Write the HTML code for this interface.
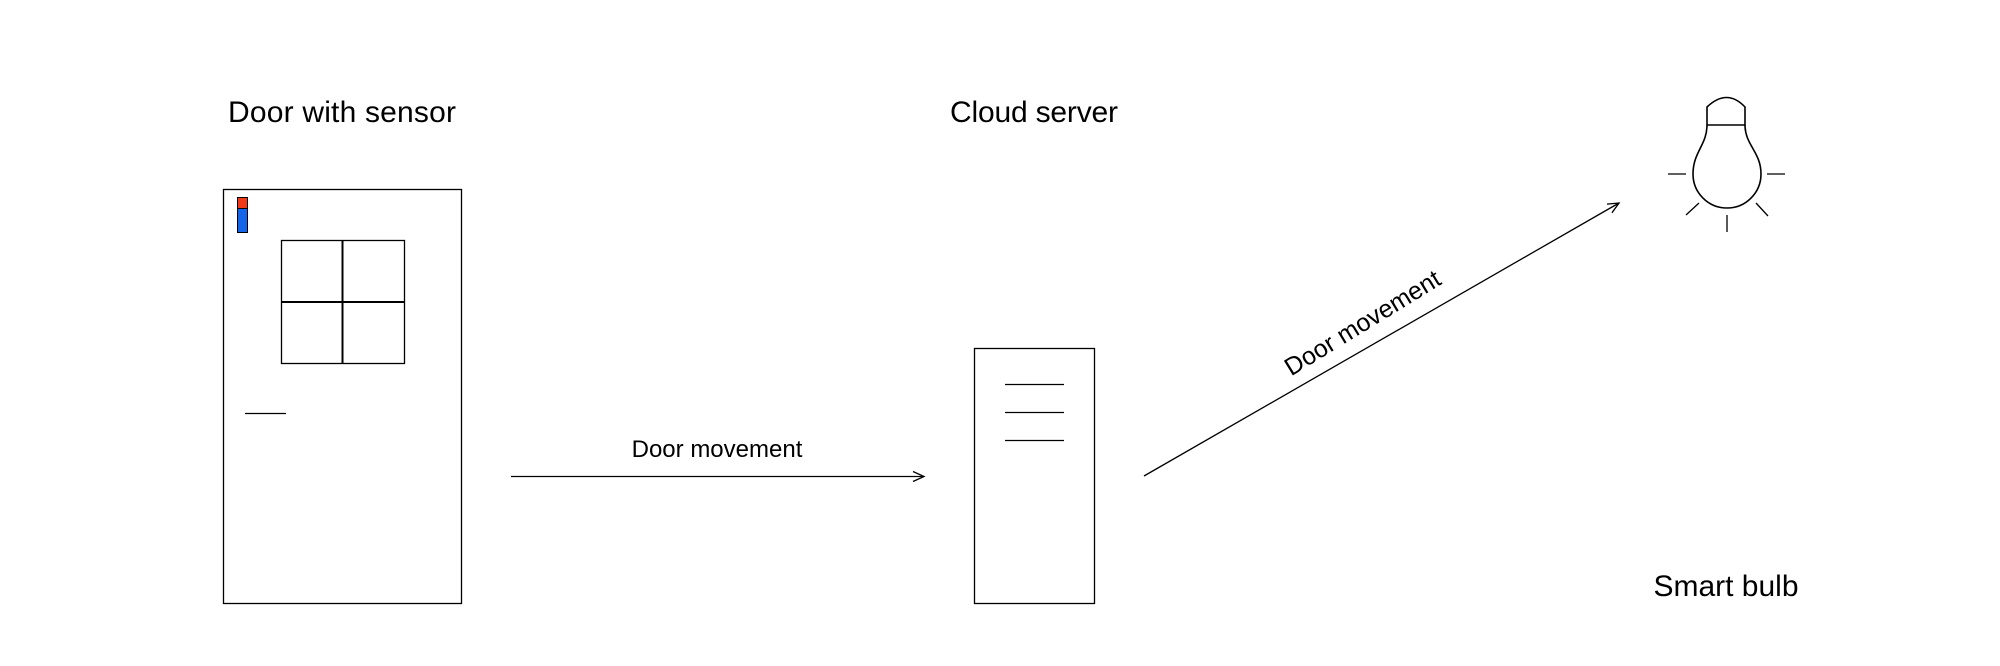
<!DOCTYPE html>
<html><head><meta charset="utf-8"><style>
html,body{margin:0;padding:0;background:#fff;}
svg{display:block;}
text{font-family:"Liberation Sans",sans-serif;fill:#000;}
</style></head><body>
<svg width="2000" height="666" viewBox="0 0 2000 666" xmlns="http://www.w3.org/2000/svg">
<defs>
<marker id="ah" markerWidth="14" markerHeight="12" refX="12" refY="6" orient="auto" markerUnits="userSpaceOnUse">
<path d="M1,1 L12,6 L1,11" fill="none" stroke="#000" stroke-width="1.3"/>
</marker>
</defs>
<text x="228" y="122" font-size="30" textLength="228">Door with sensor</text>
<text x="950" y="122" font-size="30" textLength="168">Cloud server</text>
<text x="1726" y="596" font-size="30" text-anchor="middle">Smart bulb</text>

<!-- door -->
<rect x="223.5" y="189.5" width="238" height="414" fill="none" stroke="#000" stroke-width="1.3"/>
<rect x="237.5" y="197.5" width="10" height="11" fill="#f03a17" stroke="#000" stroke-width="1"/>
<rect x="237.5" y="208.5" width="10" height="24" fill="#1565e8" stroke="#000" stroke-width="1"/>
<rect x="281.5" y="240.5" width="123" height="123" fill="none" stroke="#000" stroke-width="1.3"/>
<line x1="342.5" y1="240" x2="342.5" y2="364" stroke="#000" stroke-width="2"/>
<line x1="281" y1="302" x2="405" y2="302" stroke="#000" stroke-width="2"/>
<line x1="245" y1="413.5" x2="286" y2="413.5" stroke="#000" stroke-width="1.3"/>

<!-- arrow 1 -->
<line x1="511" y1="476.5" x2="924" y2="476.5" stroke="#000" stroke-width="1.3" marker-end="url(#ah)"/>
<text x="717" y="457" font-size="24" text-anchor="middle">Door movement</text>

<!-- server -->
<rect x="974.5" y="348.5" width="120" height="255" fill="none" stroke="#000" stroke-width="1.3"/>
<line x1="1005" y1="384.5" x2="1064" y2="384.5" stroke="#000" stroke-width="1.3"/>
<line x1="1005" y1="412.5" x2="1064" y2="412.5" stroke="#000" stroke-width="1.3"/>
<line x1="1005" y1="440.5" x2="1064" y2="440.5" stroke="#000" stroke-width="1.3"/>

<!-- arrow 2 -->
<line x1="1144" y1="476" x2="1619" y2="203" stroke="#000" stroke-width="1.3" marker-end="url(#ah)"/>
<text transform="translate(1367,330) rotate(-31.5)" font-size="25" text-anchor="middle">Door movement</text>

<!-- bulb -->
<g fill="none" stroke="#000" stroke-width="1.6">
<path d="M1707,107 Q1727,88 1745,107 L1745,125 L1707,125 Z"/>
<path d="M1707,125 C1707,145 1693,152 1693,174 A34,34 0 0 0 1761,174 C1761,152 1745,145 1745,125"/>
</g>
<g stroke="#000" stroke-width="1.3">
<line x1="1668" y1="174" x2="1686" y2="174"/>
<line x1="1767" y1="174" x2="1785" y2="174"/>
<line x1="1686" y1="215" x2="1699" y2="203"/>
<line x1="1756" y1="203" x2="1768" y2="216"/>
<line x1="1727" y1="215" x2="1727" y2="232"/>
</g>
</svg>
</body></html>
